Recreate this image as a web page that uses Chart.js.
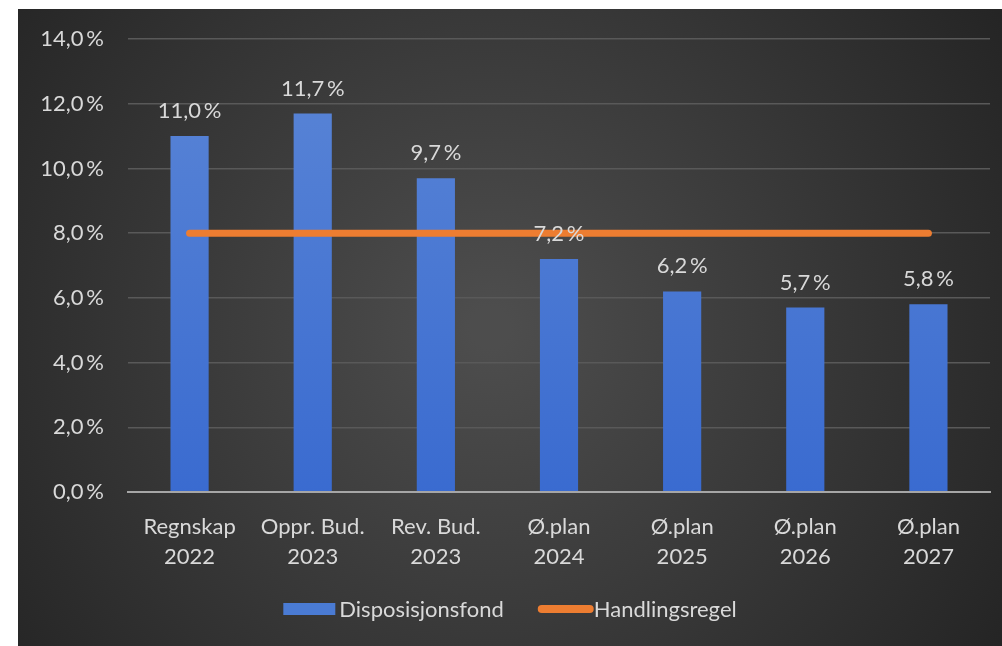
<!DOCTYPE html>
<html>
<head>
<meta charset="utf-8">
<script src="https://cdn.jsdelivr.net/npm/chart.js@4"></script>
<style>
  html, body { margin: 0; padding: 0; background: #fff; }
  #wrap { position: absolute; left: 18px; top: 9px; width: 984px; height: 637px; }
</style>
</head>
<body>
<div id="wrap"><canvas id="myChart"></canvas></div>
<script>
const categories = [
  ['Regnskap', '2022'], ['Oppr. Bud.', '2023'], ['Rev. Bud.', '2023'],
  ['Ø.plan', '2024'], ['Ø.plan', '2025'], ['Ø.plan', '2026'], ['Ø.plan', '2027']
];
const fondValues = [11.0, 11.7, 9.7, 7.2, 6.2, 5.7, 5.8];
const regelValues = [8, 8, 8, 8, 8, 8, 8];
const yTicks = [0, 2, 4, 6, 8, 10, 12, 14];

const pct = v => v.toFixed(1).replace('.', ',') + '\u2009%';
const txt = '#d9d9d9';
const fontFam = 'Lato, "Open Sans", sans-serif';
const blue = '#4a7bd4';
const orange = '#ed7d31';

// dark radial background
const bgPlugin = {
  id: 'bg',
  beforeDraw(chart) {
    const c = chart.ctx, w = chart.width, h = chart.height;
    const g = c.createRadialGradient(w * 0.48, h * 0.5, 20, w * 0.48, h * 0.5, w * 0.65);
    g.addColorStop(0, '#4d4d4d');
    g.addColorStop(1, '#222222');
    c.save();
    c.fillStyle = g;
    c.fillRect(0, 0, w, h);
    c.restore();
  }
};

// value labels above bars + simple legend
const labelPlugin = {
  id: 'vlabels',
  afterDatasetsDraw(chart) {
    const c = chart.ctx;
    const meta = chart.getDatasetMeta(1);
    c.save();
    c.font = '22px ' + fontFam;
    c.fillStyle = txt;
    c.textAlign = 'center';
    c.textBaseline = 'bottom';
    meta.data.forEach((bar, i) => {
      c.fillText(pct(fondValues[i]), bar.x, bar.y - 14);
    });
    c.restore();
  },
  afterDraw(chart) {
    const c = chart.ctx;
    const y = 600;
    c.save();
    c.font = '22px ' + fontFam;
    c.textBaseline = 'middle';
    c.textAlign = 'left';
    const items = [chart.data.datasets[1], chart.data.datasets[0]];
    const widths = items.map(d => 52 + 4 + c.measureText(d.label).width);
    const gap = 34;
    let x = chart.width / 2 - (widths[0] + widths[1] + gap) / 2;
    items.forEach((d, i) => {
      if (i === 0) {
        c.fillStyle = blue;
        c.fillRect(x, y - 6, 52, 12);
      } else {
        c.strokeStyle = orange;
        c.lineWidth = 8;
        c.lineCap = 'round';
        c.beginPath();
        c.moveTo(x + 4, y);
        c.lineTo(x + 52, y);
        c.stroke();
      }
      c.fillStyle = txt;
      c.fillText(d.label, x + 56, y + 1);
      x += widths[i] + gap;
    });
    c.restore();
  }
};

const ctx = document.getElementById('myChart').getContext('2d');
new Chart(ctx, {
  data: {
    labels: categories,
    datasets: [{
      type: 'line',
      label: 'Handlingsregel',
      data: regelValues,
      borderColor: orange,
      backgroundColor: orange,
      borderWidth: 7,
      borderCapStyle: 'round',
      pointRadius: 0,
      order: 0
    }, {
      type: 'bar',
      label: 'Disposisjonsfond',
      data: fondValues,
      backgroundColor: (c) => {
        const a = c.chart.chartArea;
        if (!a) return blue;
        const g = c.chart.ctx.createLinearGradient(0, a.top, 0, a.bottom);
        g.addColorStop(0, '#5b86d6');
        g.addColorStop(1, '#3a6bd0');
        return g;
      },
      categoryPercentage: 1,
      barPercentage: 0.31,
      order: 1
    }]
  },
  options: {
    responsive: true,
    maintainAspectRatio: false,
    animation: false,
    layout: { padding: { left: 0, right: 12, top: 30, bottom: 54 } },
    scales: {
      y: {
        min: 0,
        max: 14,
        afterBuildTicks: (axis) => { axis.ticks = yTicks.map(v => ({ value: v })); },
        afterFit: (axis) => { axis.width = 110; axis.paddingTop = 0; },
        ticks: {
          color: txt,
          font: { size: 22, family: fontFam },
          padding: 24,
          callback: (v) => pct(v)
        },
        grid: {
          color: (c) => c.tick.value === 0 ? '#a6a6a6' : '#595959',
          lineWidth: (c) => c.tick.value === 0 ? 2 : 1.5,
          drawTicks: false
        },
        border: { display: false }
      },
      x: {
        afterFit: (axis) => { axis.height = 100; },
        ticks: {
          color: txt,
          font: { size: 22, family: fontFam, lineHeight: 1.36 },
          padding: 12,
          maxRotation: 0
        },
        grid: { display: false },
        border: { color: '#a6a6a6', width: 2 }
      }
    },
    plugins: {
      legend: { display: false },
      tooltip: { enabled: false }
    }
  },
  plugins: [bgPlugin, labelPlugin]
});
</script>
</body>
</html>
